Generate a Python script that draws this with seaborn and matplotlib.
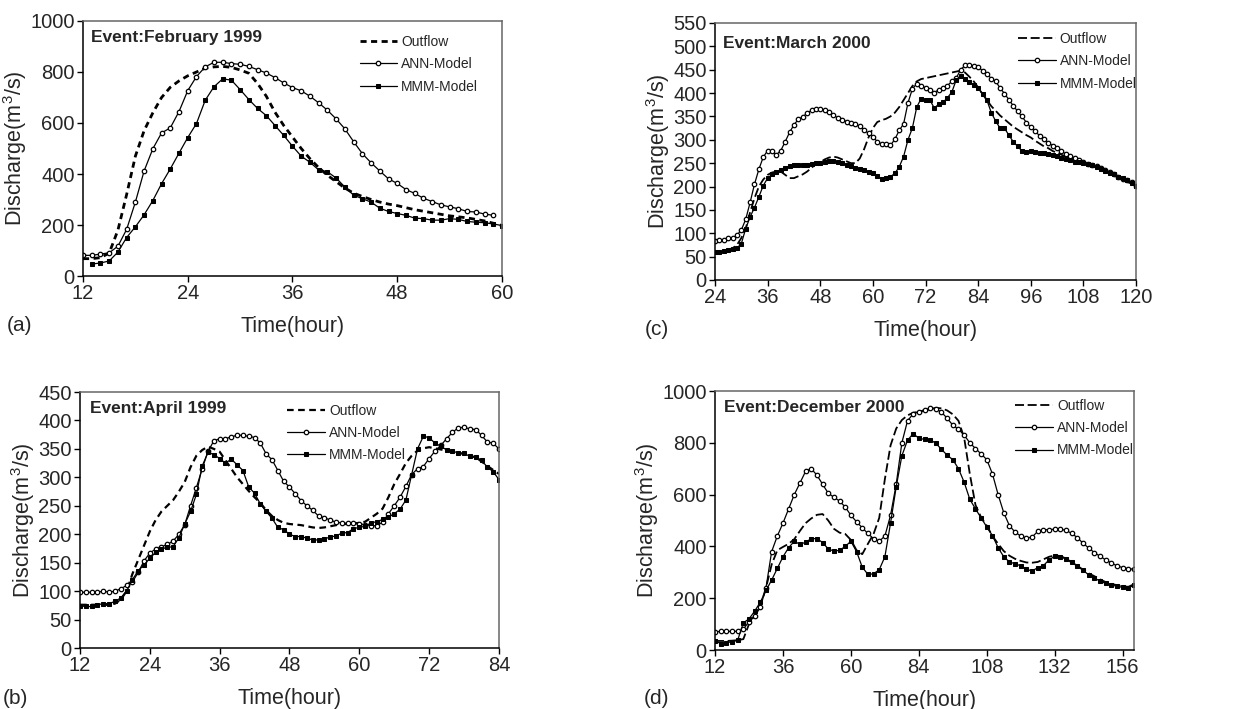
import numpy as np
import pandas as pd
import matplotlib
matplotlib.use("Agg")
import matplotlib.pyplot as plt
import seaborn as sns

# ---- panel (a): February 1999 ----
feb_hours = list(range(12, 61))
feb_outflow = [68, 68, 72, 90, 180, 320, 470, 570, 640, 700, 740, 765, 785, 800, 815, 820, 822, 818,
               808, 795, 755, 705, 642, 590, 545, 500, 460, 425, 395, 370, 345, 325, 312, 300, 290,
               282, 276, 268, 260, 254, 248, 242, 236, 232, 228, 222, 216, 207, 198]
feb_ann_hours = list(range(12, 60))
feb_ann = [81, 81, 86, 91, 117, 183, 290, 412, 499, 561, 581, 645, 727, 782, 820, 838, 838, 833,
           830, 822, 809, 796, 778, 757, 739, 726, 705, 679, 650, 616, 577, 527, 480, 444, 412,
           381, 363, 339, 324, 305, 292, 279, 271, 264, 253, 251, 243, 238]
feb_mmm_hours = list(range(13, 61))
feb_mmm = [47, 51, 59, 94, 151, 193, 240, 296, 362, 420, 482, 543, 598, 689, 742, 773, 768, 731,
           692, 657, 629, 590, 551, 509, 470, 446, 416, 409, 384, 349, 317, 303, 290, 266, 253,
           245, 238, 227, 225, 219, 219, 225, 222, 214, 211, 209, 204, 198]

# ---- panel (b): April 1999 ----
apr_hours = list(range(12, 85))
apr_outflow = [76, 76, 76, 76, 76, 76, 78, 85, 100, 130, 155, 180, 205, 225, 240, 250, 260, 275,
               292, 318, 338, 348, 354, 350, 345, 330, 315, 300, 288, 276, 265, 255, 242, 232,
               225, 220, 218, 217, 216, 214, 212, 211, 212, 214, 216, 218, 218, 219, 220, 222,
               229, 236, 245, 265, 288, 306, 325, 338, 347, 351, 353, 351, 349, 347, 345, 343,
               341, 338, 335, 328, 320, 313, 306]
apr_ann = [98, 98, 98, 98, 100, 98, 100, 104, 110, 116, 133, 153, 167, 174, 178, 182, 188, 200,
           217, 250, 282, 315, 346, 364, 368, 368, 371, 374, 374, 372, 370, 360, 341, 331, 312,
           293, 283, 271, 259, 250, 242, 232, 229, 225, 221, 220, 219, 219, 218, 217, 215, 215,
           221, 236, 250, 265, 284, 305, 315, 319, 333, 346, 356, 368, 379, 387, 388, 385, 384,
           374, 362, 360, 350]
apr_mmm = [74, 73, 73, 76, 78, 78, 82, 88, 100, 120, 136, 146, 158, 168, 174, 177, 178, 194,
           218, 240, 270, 320, 344, 340, 333, 325, 332, 322, 312, 283, 272, 253, 240, 228, 212,
           208, 200, 196, 196, 193, 190, 190, 192, 195, 197, 202, 203, 210, 212, 214, 220, 222,
           226, 230, 236, 244, 260, 305, 350, 372, 370, 360, 355, 348, 346, 343, 342, 337, 336,
           330, 318, 310, 296]

# ---- panel (c): March 2000 ----
mar_hours = list(range(24, 121))
mar_outflow = [55, 58, 62, 65, 68, 75, 90, 110, 145, 175, 200, 215, 225, 230, 232, 232, 225, 218,
               218, 222, 226, 232, 240, 248, 252, 258, 262, 264, 262, 258, 254, 250, 250, 260,
               280, 305, 325, 338, 342, 345, 350, 358, 370, 385, 400, 415, 425, 430, 432, 434,
               436, 438, 440, 442, 444, 446, 448, 444, 435, 425, 412, 398, 385, 372, 362, 352,
               344, 336, 328, 322, 316, 310, 305, 298, 292, 286, 282, 276, 272, 268, 264, 260,
               256, 252, 250, 246, 244, 240, 236, 232, 228, 222, 218, 214, 210, 206, 202]
mar_ann = [84, 86, 86, 90, 89, 96, 107, 130, 166, 205, 237, 263, 277, 275, 268, 277, 296, 316,
           332, 344, 349, 357, 363, 366, 366, 364, 359, 354, 346, 343, 339, 337, 334, 329, 321,
           314, 307, 296, 291, 291, 288, 301, 320, 334, 379, 409, 420, 416, 411, 407, 401, 407,
           410, 416, 425, 432, 450, 459, 460, 457, 456, 448, 441, 431, 425, 411, 399, 386, 373,
           361, 350, 337, 327, 318, 309, 301, 294, 287, 282, 275, 270, 266, 261, 257, 252, 249,
           246, 243, 239, 236, 231, 227, 221, 216, 213, 209, 202]
mar_mmm = [60, 60, 62, 64, 66, 68, 78, 110, 135, 155, 178, 202, 218, 226, 232, 236, 240, 244,
           245, 246, 246, 247, 248, 250, 251, 252, 254, 254, 252, 250, 247, 243, 240, 238, 235,
           232, 229, 222, 217, 219, 221, 228, 242, 264, 300, 325, 370, 388, 385, 385, 368, 376,
           380, 390, 402, 428, 436, 430, 424, 418, 410, 398, 385, 358, 340, 325, 325, 310, 296,
           286, 276, 274, 275, 274, 272, 272, 270, 268, 266, 262, 258, 256, 253, 252, 250, 248,
           246, 242, 238, 234, 230, 226, 220, 218, 214, 208, 202]

# ---- panel (d): December 2000 (read every 2 hours) ----
dec_hours = list(range(12, 161, 2))
dec_outflow = [35, 35, 35, 36, 38, 42, 100, 135, 170, 240, 330, 385, 398, 410, 428, 460, 490, 508,
               522, 525, 500, 468, 453, 448, 425, 385, 370, 410, 448, 510, 660, 790, 855, 888,
               906, 916, 920, 923, 930, 935, 933, 925, 910, 885, 820, 680, 560, 512, 480, 440,
               410, 382, 364, 352, 344, 338, 337, 340, 350, 360, 365, 363, 353, 338, 325, 310,
               296, 285, 273, 262, 256, 250, 246, 244, 254]
dec_ann = [70, 72, 72, 72, 72, 80, 110, 130, 165, 240, 380, 440, 490, 545, 600, 645, 690, 700,
           675, 640, 605, 590, 575, 552, 520, 495, 472, 450, 430, 420, 440, 520, 640, 800, 885,
           912, 920, 928, 933, 932, 918, 895, 868, 852, 830, 800, 778, 757, 735, 680, 600, 530,
           480, 455, 440, 432, 436, 458, 464, 465, 466, 466, 462, 450, 434, 412, 394, 376, 362,
           348, 336, 325, 318, 314, 312]
dec_mmm = [35, 25, 28, 32, 38, 105, 120, 150, 185, 230, 270, 315, 360, 395, 420, 408, 416, 430,
           430, 415, 390, 382, 385, 400, 420, 380, 320, 292, 294, 310, 360, 490, 630, 750, 810,
           835, 818, 813, 812, 798, 775, 752, 735, 700, 648, 582, 545, 510, 475, 442, 395, 360,
           340, 333, 325, 312, 305, 318, 326, 348, 362, 360, 352, 340, 324, 308, 290, 278, 266,
           257, 251, 246, 242, 240, 250]

sns.set_theme(style="ticks")
plt.rcParams['font.family'] = ['Liberation Sans', 'DejaVu Sans']
plt.rcParams['mathtext.fontset'] = 'custom'
plt.rcParams['mathtext.rm'] = 'Liberation Sans'

fig = plt.figure(figsize=(12.54, 7.09), dpi=100)

panels = [
    dict(rect=[0.0662, 0.6107, 0.3341, 0.3597], title='Event:February 1999',
         out=(feb_hours, feb_outflow), ann=(feb_ann_hours, feb_ann), mmm=(feb_mmm_hours, feb_mmm),
         xlim=(12, 60), xticks=range(12, 61, 12), ylim=(0, 1000), yticks=range(0, 1001, 200),
         leg=(0.66, 0.945), ttl=(0.02, 0.937), letter=(0.005, 0.541),
         olw=2.0, odash=(2.2, 1.6)),
    dict(rect=[0.5702, 0.6051, 0.3357, 0.3625], title='Event:March 2000',
         out=(mar_hours, mar_outflow), ann=(mar_hours, mar_ann), mmm=(mar_hours, mar_mmm),
         xlim=(24, 120), xticks=range(24, 121, 12), ylim=(0, 550), yticks=range(0, 551, 50),
         leg=(0.72, 0.965), ttl=(0.02, 0.922), letter=(0.514, 0.535),
         olw=1.3, odash=(5, 2)),
    dict(rect=[0.0638, 0.0860, 0.3341, 0.3611], title='Event:April 1999',
         out=(apr_hours, apr_outflow), ann=(apr_hours, apr_ann), mmm=(apr_hours, apr_mmm),
         xlim=(12, 84), xticks=range(12, 85, 12), ylim=(0, 450), yticks=range(0, 451, 50),
         leg=(0.495, 0.955), ttl=(0.024, 0.934), letter=(0.002, 0.015),
         olw=1.6, odash=(3, 2)),
    dict(rect=[0.5702, 0.0832, 0.3341, 0.3653], title='Event:December 2000',
         out=(dec_hours, dec_outflow), ann=(dec_hours, dec_ann), mmm=(dec_hours, dec_mmm),
         xlim=(12, 160), xticks=range(12, 157, 24), ylim=(0, 1000), yticks=range(0, 1001, 200),
         leg=(0.717, 0.97), ttl=(0.021, 0.938), letter=(0.513, 0.015),
         olw=1.3, odash=(5, 2)),
]

for i, p in enumerate(panels):
    ax = fig.add_axes(p['rect'])
    sns.lineplot(x=p['out'][0], y=p['out'][1], ax=ax, color='black', lw=p['olw'],
                 label='Outflow', legend=False)
    ax.lines[-1].set_dashes(p['odash'])
    sns.lineplot(x=p['ann'][0], y=p['ann'][1], ax=ax, color='black', lw=0.9,
                 marker='o', ms=3.2, mfc='white', mec='black', mew=0.9,
                 label='ANN-Model', legend=False)
    sns.lineplot(x=p['mmm'][0], y=p['mmm'][1], ax=ax, color='black', lw=0.9,
                 marker='s', ms=3.2, mfc='black', mec='black',
                 label='MMM-Model', legend=False)

    ax.set_xlim(*p['xlim'])
    ax.set_ylim(*p['ylim'])
    ax.set_xticks(list(p['xticks']))
    ax.set_yticks(list(p['yticks']))
    ax.tick_params(labelsize=14.5, direction='out', length=4, width=1, color='black', pad=2)
    for s in ['left', 'bottom']:
        ax.spines[s].set_color('black')
        ax.spines[s].set_linewidth(1.1)
    for s in ['top', 'right']:
        ax.spines[s].set_color('#666666')
        ax.spines[s].set_linewidth(1.1)

    ax.set_xlabel('Time(hour)', fontsize=15.5, labelpad=9)
    ax.set_ylabel('Discharge(m$^3$/s)', fontsize=15.5, labelpad=1)
    ax.text(p['ttl'][0], p['ttl'][1], p['title'], transform=ax.transAxes,
            fontsize=12.5, fontweight='bold', va='center', ha='left')

    ax.legend(loc='upper left', bbox_to_anchor=p['leg'], frameon=False, fontsize=10,
              handlelength=2.7, handletextpad=0.3, labelspacing=0.6, borderpad=0,
              borderaxespad=0, numpoints=1)

    fig.text(p['letter'][0], p['letter'][1], '(' + 'acbd'[i] + ')',
             fontsize=15, ha='left', va='center')

fig.savefig('out.png', dpi=100)
